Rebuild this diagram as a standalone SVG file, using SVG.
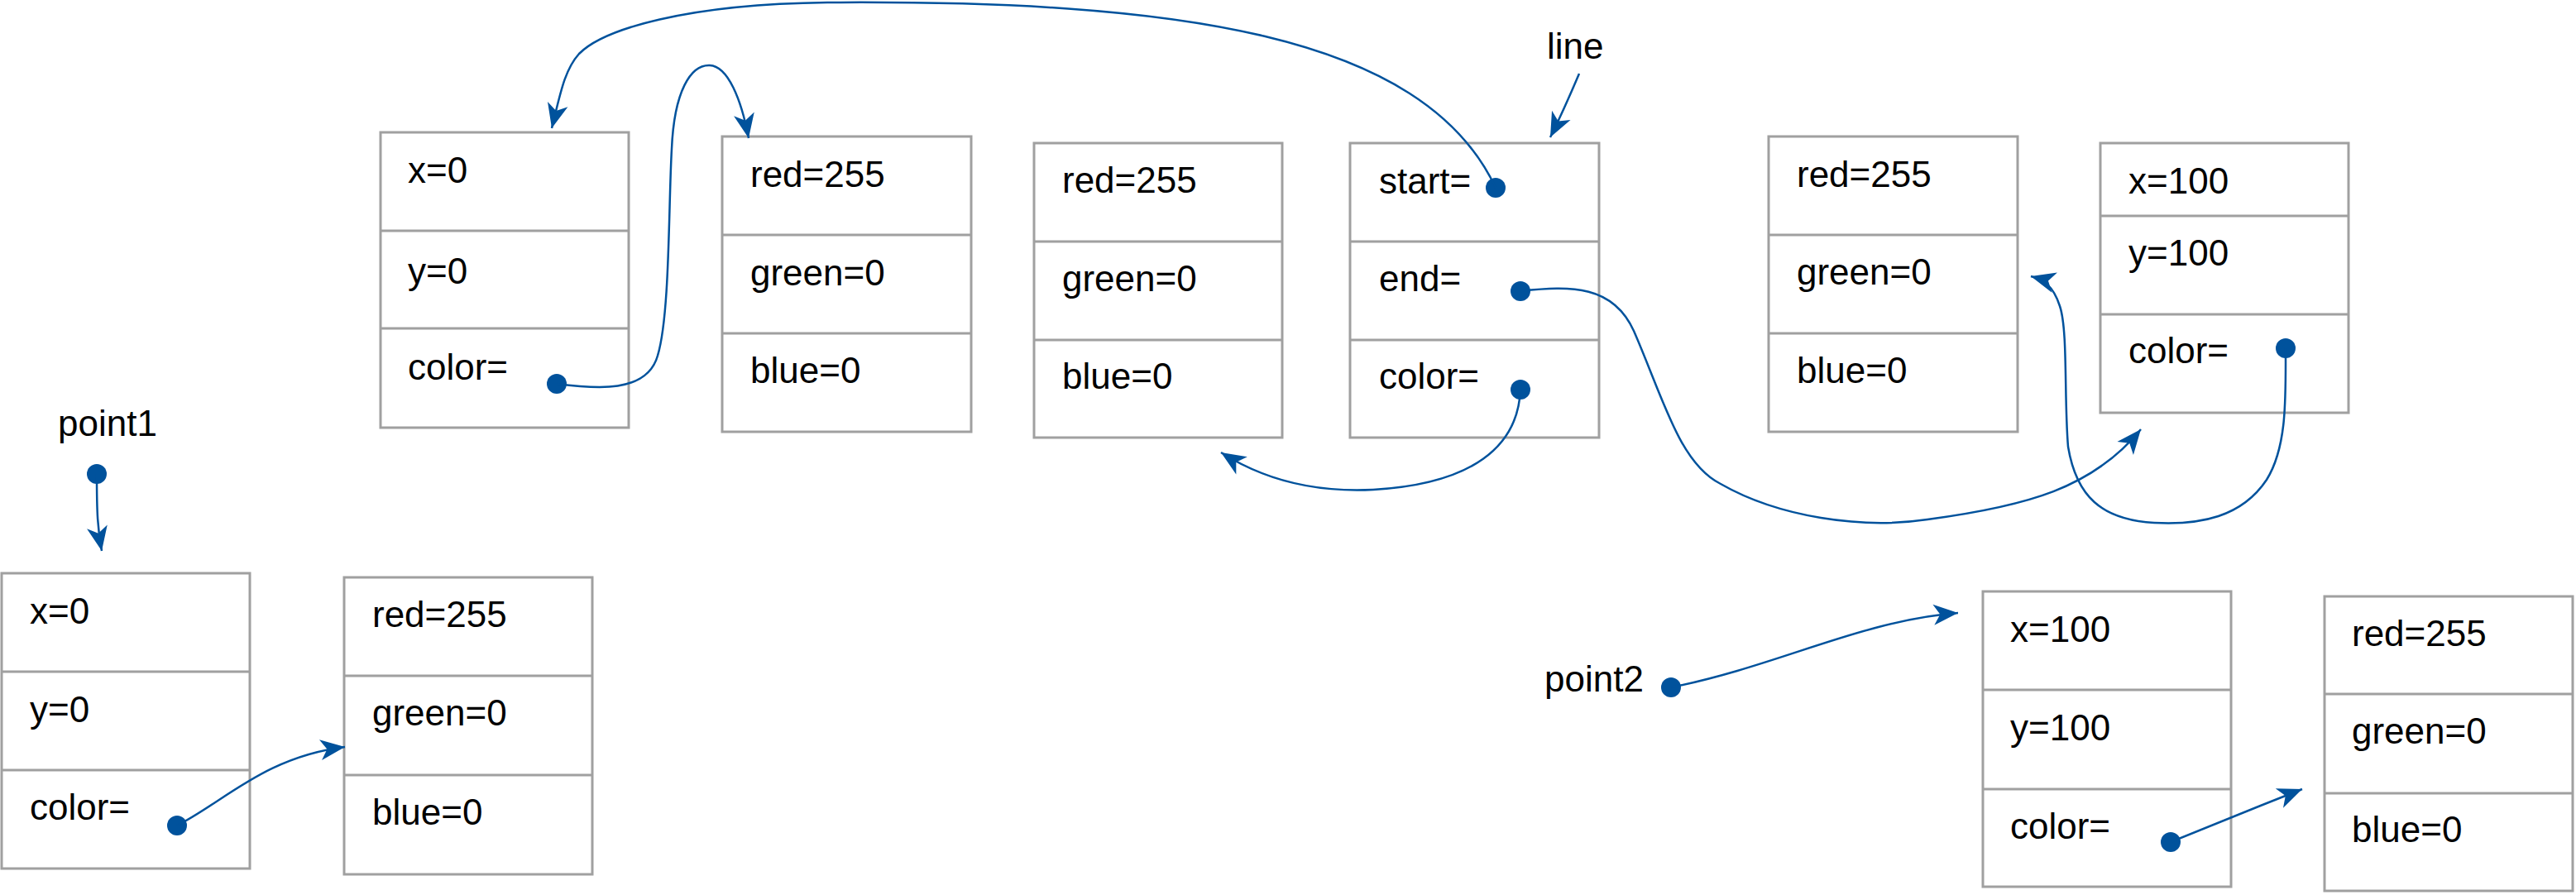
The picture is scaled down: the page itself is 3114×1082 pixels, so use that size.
<svg xmlns="http://www.w3.org/2000/svg" width="3114" height="1082" viewBox="0 0 3114 1082">
<style>
.box{fill:#fff;stroke:#a0a0a0;stroke-width:3}
.div{stroke:#a0a0a0;stroke-width:3}
.t{font-family:"Liberation Sans",Arial,sans-serif;font-size:44px;fill:#000}
.c{fill:none;stroke:#00529c;stroke-width:2.5}
.dot{fill:#00529c}
</style>
<defs>
<marker id="ah" markerUnits="userSpaceOnUse" markerWidth="40" markerHeight="40" viewBox="-30 -15 35 30" refX="0" refY="0" orient="auto">
<path d="M0,0 L-26,-11 L-19,0 L-26,11 Z" fill="#00529c"/>
</marker>
</defs>
<rect width="3114" height="1082" fill="#fff"/>

<g id="box-line-start-point">
<rect class="box" x="460" y="160" width="300" height="357"/>
<line class="div" x1="460" y1="279" x2="760" y2="279"/>
<line class="div" x1="460" y1="397" x2="760" y2="397"/>
<text class="t" x="493" y="221">x=0</text>
<text class="t" x="493" y="343">y=0</text>
<text class="t" x="493" y="459">color=</text>
<circle class="dot" cx="673" cy="464" r="12"/>
</g>

<g id="box-start-color">
<rect class="box" x="873" y="165" width="301" height="357"/>
<line class="div" x1="873" y1="284" x2="1174" y2="284"/>
<line class="div" x1="873" y1="403" x2="1174" y2="403"/>
<text class="t" x="907" y="226">red=255</text>
<text class="t" x="907" y="345">green=0</text>
<text class="t" x="907" y="463">blue=0</text>
</g>

<g id="box-line-color">
<rect class="box" x="1250" y="173" width="300" height="356"/>
<line class="div" x1="1250" y1="292" x2="1550" y2="292"/>
<line class="div" x1="1250" y1="411" x2="1550" y2="411"/>
<text class="t" x="1284" y="233">red=255</text>
<text class="t" x="1284" y="352">green=0</text>
<text class="t" x="1284" y="470">blue=0</text>
</g>

<g id="label-line">
<text class="t" x="1870" y="71">line</text>
</g>

<g id="box-line">
<rect class="box" x="1632" y="173" width="301" height="356"/>
<line class="div" x1="1632" y1="292" x2="1933" y2="292"/>
<line class="div" x1="1632" y1="411" x2="1933" y2="411"/>
<text class="t" x="1667" y="234">start=</text>
<text class="t" x="1667" y="352">end=</text>
<text class="t" x="1667" y="470">color=</text>
<circle class="dot" cx="1808" cy="227" r="12"/>
<circle class="dot" cx="1838" cy="352" r="12"/>
<circle class="dot" cx="1838" cy="471" r="12"/>
</g>

<g id="box-end-color">
<rect class="box" x="2138" y="165" width="301" height="357"/>
<line class="div" x1="2138" y1="284" x2="2439" y2="284"/>
<line class="div" x1="2138" y1="403" x2="2439" y2="403"/>
<text class="t" x="2172" y="226">red=255</text>
<text class="t" x="2172" y="344">green=0</text>
<text class="t" x="2172" y="463">blue=0</text>
</g>

<g id="box-line-end-point">
<rect class="box" x="2539" y="173" width="300" height="326"/>
<line class="div" x1="2539" y1="261" x2="2839" y2="261"/>
<line class="div" x1="2539" y1="380" x2="2839" y2="380"/>
<text class="t" x="2573" y="234">x=100</text>
<text class="t" x="2573" y="321">y=100</text>
<text class="t" x="2573" y="439">color=</text>
<circle class="dot" cx="2763" cy="421" r="12"/>
</g>

<g id="label-point1">
<text class="t" x="70" y="527">point1</text>
<circle class="dot" cx="117" cy="573" r="12"/>
</g>

<g id="box-point1">
<rect class="box" x="2" y="693" width="300" height="357"/>
<line class="div" x1="2" y1="812" x2="302" y2="812"/>
<line class="div" x1="2" y1="931" x2="302" y2="931"/>
<text class="t" x="36" y="754">x=0</text>
<text class="t" x="36" y="873">y=0</text>
<text class="t" x="36" y="991">color=</text>
<circle class="dot" cx="214" cy="998" r="12"/>
</g>

<g id="box-point1-color">
<rect class="box" x="416" y="698" width="300" height="359"/>
<line class="div" x1="416" y1="817" x2="716" y2="817"/>
<line class="div" x1="416" y1="937" x2="716" y2="937"/>
<text class="t" x="450" y="758">red=255</text>
<text class="t" x="450" y="877">green=0</text>
<text class="t" x="450" y="997">blue=0</text>
</g>

<g id="label-point2">
<text class="t" x="1867" y="836">point2</text>
<circle class="dot" cx="2020" cy="831" r="12"/>
</g>

<g id="box-point2">
<rect class="box" x="2397" y="715" width="300" height="357"/>
<line class="div" x1="2397" y1="834" x2="2697" y2="834"/>
<line class="div" x1="2397" y1="954" x2="2697" y2="954"/>
<text class="t" x="2430" y="776">x=100</text>
<text class="t" x="2430" y="895">y=100</text>
<text class="t" x="2430" y="1014">color=</text>
<circle class="dot" cx="2624" cy="1018" r="12"/>
</g>

<g id="box-point2-color">
<rect class="box" x="2810" y="721" width="300" height="356"/>
<line class="div" x1="2810" y1="839" x2="3110" y2="839"/>
<line class="div" x1="2810" y1="959" x2="3110" y2="959"/>
<text class="t" x="2843" y="781">red=255</text>
<text class="t" x="2843" y="899">green=0</text>
<text class="t" x="2843" y="1018">blue=0</text>
</g>

<g id="connectors">
<path class="c" marker-end="url(#ah)" d="M1808,227 C1720,40 1420,0 1000,3 C830,5 730,35 700,65 C682,85 677,115 667,155"/>
<path class="c" marker-end="url(#ah)" d="M673,464 C720,470 782,476 795,430 C810,380 808,250 812,180 C815,110 835,78 858,79 C880,80 896,120 905,167"/>
<path class="c" marker-end="url(#ah)" d="M1909,89 C1898,115 1888,138 1874,166"/>
<path class="c" marker-end="url(#ah)" d="M1838,352 C1900,345 1950,345 1975,400 C2010,480 2030,560 2080,585 C2150,625 2250,640 2330,628 C2450,612 2530,590 2588,519"/>
<path class="c" marker-end="url(#ah)" d="M2763,421 C2763,480 2765,540 2740,580 C2710,625 2660,635 2604,632 C2540,628 2510,600 2500,540 C2495,480 2500,400 2490,370 C2482,345 2470,338 2455,334"/>
<path class="c" marker-end="url(#ah)" d="M1838,471 C1835,540 1780,585 1660,592 C1580,596 1520,575 1476,547"/>
<path class="c" marker-end="url(#ah)" d="M117,573 C117,620 118,640 123,666"/>
<path class="c" marker-end="url(#ah)" d="M214,998 C270,970 320,915 417,903"/>
<path class="c" marker-end="url(#ah)" d="M2020,831 C2150,805 2250,750 2367,741"/>
<path class="c" marker-end="url(#ah)" d="M2624,1018 C2680,995 2730,975 2783,954"/>
</g>
</svg>
